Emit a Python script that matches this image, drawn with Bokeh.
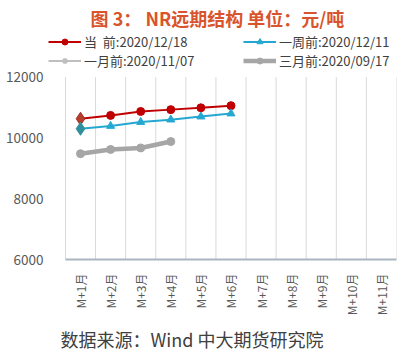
import math
from bokeh.plotting import figure
from bokeh.models import (ColumnDataSource, FixedTicker, Legend, LegendItem, Title)
from bokeh.embed import file_html
from bokeh.resources import INLINE

# ---- data ----
categories = ["M+1月", "M+2月", "M+3月", "M+4月", "M+5月", "M+6月",
              "M+7月", "M+8月", "M+9月", "M+10月", "M+11月"]
current = [10630, 10740, 10870, 10930, 10990, 11060]      # 当 前:2020/12/18
week_ago = [10300, 10390, 10520, 10600, 10700, 10800]     # 一周前:2020/12/11
month_ago = [float("nan")]                                # 一月前:2020/11/07 (no points shown)
three_months_ago = [9480, 9620, 9670, 9880]               # 三月前:2020/09/17
y_ticks = [6000, 8000, 10000, 12000]

FONT = "Noto Sans CJK SC"
N = len(categories)
x_pos = [i + 0.5 for i in range(N)]

# frame spans x 46..396, y 32..261; categories occupy 65..396, values 6000..12000 -> 261..77
p = figure(width=406, height=356, x_range=(-0.63, N), y_range=(6000, 13467),
           output_backend="svg", toolbar_location=None,
           min_border_left=46, min_border_right=10, min_border_top=32, min_border_bottom=95)
p.outline_line_color = None
p.background_fill_color = "white"
p.border_fill_color = "white"
p.xgrid.grid_line_color = None
p.ygrid.grid_line_color = None

def src(vals, start=0):
    return ColumnDataSource(dict(x=x_pos[start:len(vals)], y=vals[start:]))

# vertical category separators (plot-area grid between 6000 and 12000)
bounds_x = list(range(N + 1))
p.segment(x0=bounds_x, x1=bounds_x, y0=[y_ticks[0]] * (N + 1), y1=[y_ticks[-1]] * (N + 1),
          line_color="#d9d9d9", line_width=1)

# series
r_cur_l = p.line("x", "y", source=src(current), line_color="#c00000", line_width=2)
r_cur_m = p.scatter("x", "y", source=src(current, 1), marker="circle", size=8,
                    fill_color="#c00000", line_color="#c00000")
p.scatter("x", "y", source=ColumnDataSource(dict(x=x_pos[:1], y=current[:1])),
          marker="diamond", size=13, fill_color="#b5402a", line_color="#a0302a")

r_wk_l = p.line("x", "y", source=src(week_ago), line_color="#24a8d2", line_width=2)
r_wk_m = p.scatter("x", "y", source=src(week_ago, 1), marker="triangle", size=8,
                   fill_color="#24a8d2", line_color="#24a8d2")
p.scatter("x", "y", source=ColumnDataSource(dict(x=x_pos[:1], y=week_ago[:1])),
          marker="diamond", size=13, fill_color="#2f8f9d", line_color="#2f8f9d")

r_mo_l = p.line("x", "y", source=src(month_ago), line_color="#bfbfbf", line_width=2)
r_mo_m = p.scatter("x", "y", source=src(month_ago), marker="asterisk", size=7,
                   line_color="#bfbfbf", line_width=1.5)

r_3m_l = p.line("x", "y", source=src(three_months_ago), line_color="#a6a6a6", line_width=4.5)
r_3m_m = p.scatter("x", "y", source=src(three_months_ago), marker="circle", size=8,
                   fill_color="#a6a6a6", line_color="#a6a6a6")

# axes
p.yaxis.ticker = FixedTicker(ticks=y_ticks)
p.yaxis.axis_line_color = None
p.yaxis.major_tick_line_color = None
p.yaxis.minor_tick_line_color = None
p.yaxis.major_label_text_font = FONT
p.yaxis.major_label_text_font_size = "13.5px"
p.yaxis.major_label_text_color = "#595959"
p.yaxis.major_label_standoff = -3

p.xaxis.ticker = FixedTicker(ticks=x_pos)
p.xaxis.bounds = (0, N)
p.xaxis.major_label_overrides = {x: c for x, c in zip(x_pos, categories)}
p.xaxis.major_label_orientation = math.pi / 2
p.xaxis.axis_line_color = "#a9b6c2"
p.xaxis.axis_line_width = 2
p.xaxis.major_tick_line_color = None
p.xaxis.minor_tick_line_color = None
p.xaxis.major_label_text_font = FONT
p.xaxis.major_label_text_font_size = "12px"
p.xaxis.major_label_text_color = "#595959"
p.xaxis.major_label_standoff = 8

def make_legend(items, y):
    return Legend(items=items, orientation="horizontal", location=(2, y),
                  label_text_font=FONT, label_text_font_size="13px", label_text_color="#404040",
                  glyph_width=33, glyph_height=15, label_standoff=3, label_width=159,
                  label_height=15, spacing=0, padding=2, margin=0,
                  border_line_color=None, background_fill_alpha=0)

leg1 = make_legend([
    LegendItem(label="当  前:2020/12/18", renderers=[r_cur_l, r_cur_m]),
    LegendItem(label="一周前:2020/12/11", renderers=[r_wk_l, r_wk_m]),
], 208)
leg2 = make_legend([
    LegendItem(label="一月前:2020/11/07", renderers=[r_mo_l, r_mo_m]),
    LegendItem(label="三月前:2020/09/17", renderers=[r_3m_l, r_3m_m]),
], 189)
p.add_layout(leg1, "center")
p.add_layout(leg2, "center")

p.add_layout(Title(text="图 3：  NR远期结构  单位：元/吨", align="center", standoff=4,
                   text_font=FONT, text_font_size="18px", text_font_style="bold",
                   text_color="#d9542c"), "above")

p.add_layout(Title(text="数据来源：Wind  中大期货研究院", align="left", offset=14,
                   text_font=FONT, text_font_size="18px", text_font_style="normal",
                   text_color="#404040"), "below")

open("out.html", "w").write(file_html(p, INLINE))
